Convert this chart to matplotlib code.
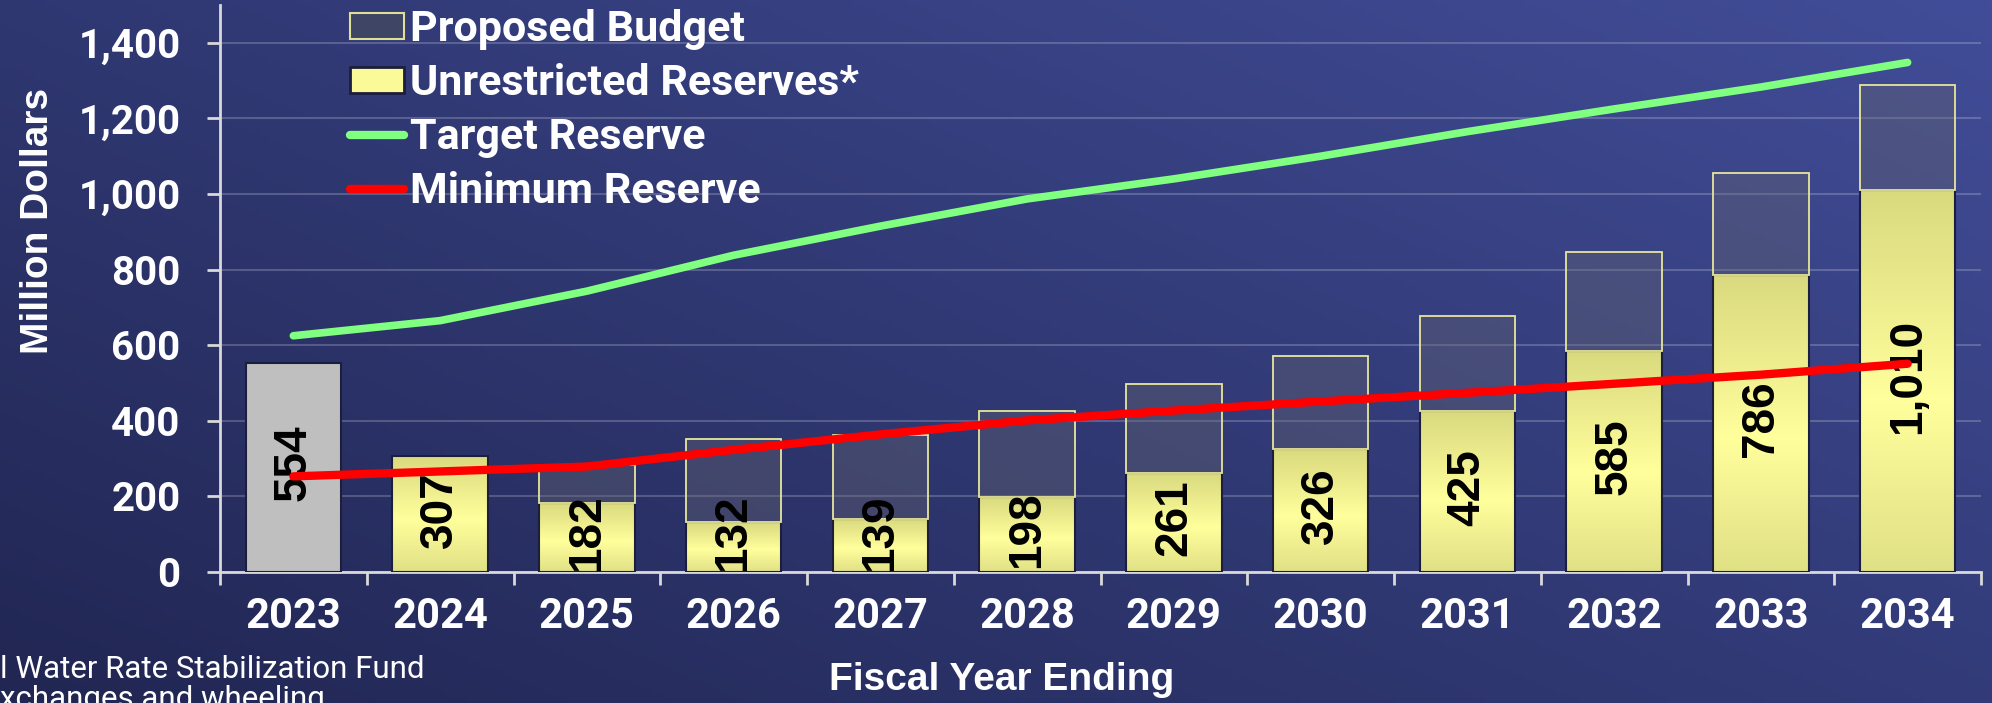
import numpy as np
import matplotlib
matplotlib.use('Agg')
import matplotlib.pyplot as plt
from matplotlib.colors import LinearSegmentedColormap
from matplotlib.lines import Line2D
from matplotlib.patches import Patch
from matplotlib.ticker import FuncFormatter, FixedLocator

YEARS = ['2023', '2024', '2025', '2026', '2027', '2028',
         '2029', '2030', '2031', '2032', '2033', '2034']
UNRESTRICTED = [554, 307, 182, 132, 139, 198, 261, 326, 425, 585, 786, 1010]
PROPOSED_BUDGET = [0, 0, 101, 220, 223, 228, 237, 245, 253, 262, 270, 279]
TARGET_RESERVE = [625, 665, 743, 838, 915, 987, 1040, 1100, 1165, 1225, 1283, 1348]
MINIMUM_RESERVE = [253, 266, 279, 323, 364, 401, 427, 451, 474, 498, 522, 551]
Y_TICKS = [0, 200, 400, 600, 800, 1000, 1200, 1400]

W, H = 1992, 703
fig = plt.figure(figsize=(W / 100, H / 100), dpi=100)

# diagonal navy -> blue background
bg = fig.add_axes([0, 0, 1, 1], zorder=-10)
xx, yy = np.meshgrid(np.linspace(0, 1, 400), np.linspace(0, 1, 150))
t = 0.55 * xx + 0.45 * yy
c0 = np.array([33, 38, 82]) / 255
c1 = np.array([65, 77, 152]) / 255
img = c0[None, None, :] * (1 - t[..., None]) + c1[None, None, :] * t[..., None]
bg.imshow(img, origin='lower', aspect='auto', extent=(0, 1, 0, 1))
bg.axis('off')

ax = fig.add_axes([220 / W, 1 - 572 / H, (1981 - 220) / W, (572 - 5) / H])
ax.patch.set_alpha(0)

x = np.arange(len(YEARS))
bar_w = 0.65
yellow = LinearSegmentedColormap.from_list(
    'yel', [(0, '#e0e086'), (0.45, '#ffff9c'), (1, '#d9d97f')])
grad = np.linspace(0, 1, 256).reshape(-1, 1)

face = ['#bfbfbf'] + ['none'] * (len(YEARS) - 1)
bars = ax.bar(x, UNRESTRICTED, width=bar_w, color=face,
              edgecolor='#1b1e3c', linewidth=1.5, zorder=3)
for i, b in enumerate(bars):
    if i == 0:
        continue
    im = ax.imshow(grad, extent=(x[i] - bar_w / 2, x[i] + bar_w / 2, 0, UNRESTRICTED[i]),
                   origin='lower', aspect='auto', cmap=yellow, zorder=2.9)
    im.set_clip_path(b)

idx = [i for i, v in enumerate(PROPOSED_BUDGET) if v > 0]
ax.bar(x[idx], [PROPOSED_BUDGET[i] for i in idx], width=bar_w,
       bottom=[UNRESTRICTED[i] for i in idx],
       color=(0.40, 0.40, 0.44, 0.38), edgecolor='#e6e69a', linewidth=1.3, zorder=3.5)

for i, v in enumerate(UNRESTRICTED):
    ax.text(x[i], max(v / 2 + 12, 105), f'{v:,}', rotation=90, ha='center', va='center',
            fontsize=33, fontweight='bold', family='Liberation Sans', color='black', zorder=5)

ax.plot(x, TARGET_RESERVE, color='#80ff80', lw=5.5, solid_capstyle='round', zorder=6)
ax.plot(x, MINIMUM_RESERVE, color='#ff0000', lw=6, solid_capstyle='round', zorder=6)

ax.set_xlim(-0.5, len(YEARS) - 0.5)
ax.set_ylim(0, 1500)

ax.set_yticks(Y_TICKS)
ax.yaxis.set_major_formatter(FuncFormatter(lambda v, p: f'{int(v):,}'))
ax.yaxis.grid(True, color='white', alpha=0.2, lw=1.5)
ax.set_axisbelow(True)

ax.set_xticks(x)
ax.set_xticklabels(YEARS)
ax.xaxis.set_minor_locator(FixedLocator(np.arange(-0.5, len(YEARS), 1.0)))

for s in ('top', 'right'):
    ax.spines[s].set_visible(False)
for s in ('left', 'bottom'):
    ax.spines[s].set_color('#d9d9d9')
    ax.spines[s].set_linewidth(2)

ax.tick_params(axis='y', direction='out', length=9.4, width=2, color='#d9d9d9',
               labelcolor='white', pad=19, labelsize=29)
ax.tick_params(axis='x', which='major', length=0, labelcolor='white', pad=17, labelsize=30)
ax.tick_params(axis='x', which='minor', direction='out', length=9.4, width=2, color='#d9d9d9')
for lab in ax.get_xticklabels() + ax.get_yticklabels():
    lab.set_family('Roboto')
    lab.set_fontweight('bold')

fig.text(38 / W, 1 - 221 / H, 'Million Dollars', rotation=90, ha='center', va='center',
         fontsize=28, fontweight='bold', family='Liberation Sans', color='white')
fig.text(1002 / W, 1 - 680 / H, 'Fiscal Year Ending', ha='center', va='center',
         fontsize=28, fontweight='bold', family='Liberation Sans', color='white')
fig.text(0, 1 - 655 / H, 'l Water Rate Stabilization Fund\nxchanges and wheeling',
         ha='left', va='top', fontsize=22.5, family='Roboto', color='white', linespacing=1.05)

handles = [
    Patch(facecolor='#3f4565', edgecolor='#e0e094', linewidth=1.5),
    Patch(facecolor='#fafa98', edgecolor='#1b1e3c', linewidth=2),
    Line2D([], [], color='#80ff80', lw=6, solid_capstyle='round'),
    Line2D([], [], color='#ff0000', lw=6, solid_capstyle='round'),
]
labels = ['Proposed Budget', 'Unrestricted Reserves*', 'Target Reserve', 'Minimum Reserve']
fig.legend(handles, labels, loc='upper left', bbox_to_anchor=(350 / W, 1 - 9 / H),
           frameon=False, prop={'family': 'Roboto', 'weight': 'bold', 'size': 31},
           labelcolor='white', handlelength=1.25, handleheight=0.55, handletextpad=0.15,
           labelspacing=0.3, borderpad=0, borderaxespad=0)

fig.savefig('out.png', dpi=100)
